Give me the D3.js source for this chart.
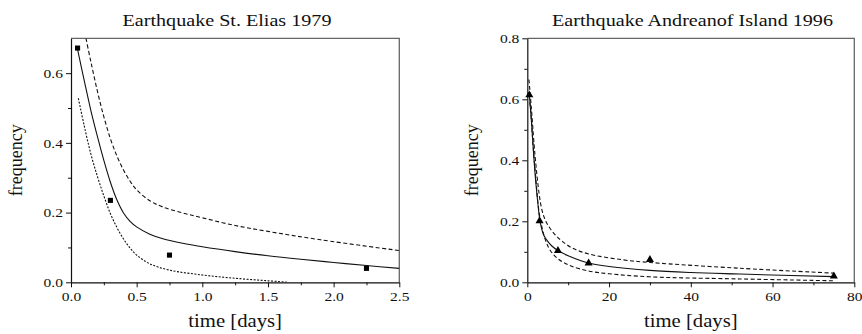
<!DOCTYPE html>
<html lang="en">
<head>
<meta charset="UTF-8">
<script src="https://d3js.org/d3.v7.min.js"></script>
<style>
  body { margin: 0; background: #fff; }
  svg { display: block; }
  svg text { font-family: 'Liberation Serif', serif; fill: #111; }
  .tick text { font-size: 13.5px; }
  .title { font-size: 17.5px; }
  .label { font-size: 18px; }
</style>
</head>
<body>
<div id="chart"></div>
<script>
// ---- data ----
// St. Elias 1979
const eliasDays = [0.05, 0.3, 0.75, 2.25];
const eliasFreq = [0.672, 0.235, 0.078, 0.040];
const eliasFit = [[0.05,0.668],[0.1,0.58],[0.15,0.495],[0.2,0.42],[0.25,0.35],[0.3,0.287],[0.35,0.236],[0.4,0.199],[0.45,0.175],[0.5,0.159],[0.6,0.138],[0.7,0.125],[0.85,0.112],[1.0,0.102],[1.25,0.088],[1.5,0.076],[1.75,0.066],[2.0,0.057],[2.25,0.048],[2.5,0.040]];
const eliasUpper = [[0.114,0.70],[0.15,0.635],[0.2,0.55],[0.25,0.475],[0.3,0.412],[0.35,0.362],[0.4,0.322],[0.45,0.29],[0.5,0.265],[0.6,0.234],[0.7,0.216],[0.85,0.199],[1.0,0.185],[1.25,0.163],[1.5,0.146],[1.9,0.122],[2.5,0.091]];
const eliasLower = [[0.056,0.528],[0.1,0.45],[0.15,0.37],[0.2,0.305],[0.25,0.248],[0.3,0.197],[0.35,0.157],[0.4,0.124],[0.45,0.098],[0.5,0.078],[0.6,0.053],[0.75,0.035],[1.0,0.021],[1.25,0.0115],[1.5,0.0045],[1.65,0]];

// Andreanof Island 1996
const andreanofDays = [0.5, 3, 7.5, 15, 30, 75];
const andreanofFreq = [0.614, 0.201, 0.104, 0.063, 0.074, 0.02];
const andreanofFit = [[0.5,0.615],[1.0,0.53],[1.5,0.43],[2.0,0.34],[2.5,0.27],[3.0,0.21],[3.5,0.176],[4.0,0.155],[5.0,0.134],[6.0,0.119],[7.5,0.104],[10,0.087],[15,0.063],[20,0.052],[30,0.039],[40,0.032],[52,0.027],[75,0.0185]];
const andreanofUpper = [[0.4,0.665],[1.0,0.57],[1.64,0.456],[2.0,0.40],[2.87,0.292],[3.5,0.242],[4.3,0.207],[5.5,0.178],[6.9,0.155],[8.5,0.135],[10.9,0.113],[15,0.093],[23.2,0.074],[30,0.065],[52,0.046],[75,0.03]];
const andreanofLower = [[0.6,0.59],[0.82,0.565],[1.4,0.45],[2.05,0.346],[2.8,0.238],[3.67,0.175],[4.4,0.14],[5.2,0.114],[6.2,0.094],[7.5,0.077],[9,0.064],[11,0.052],[15,0.037],[20,0.028],[30,0.018],[52,0.011],[75,0.005]];

// ticks
const eliasXTicks = [0, 0.5, 1.0, 1.5, 2.0, 2.5];
const eliasYTicks = [0, 0.2, 0.4, 0.6];
const andreanofXTicks = [0, 20, 40, 60, 80];
const andreanofYTicks = [0, 0.2, 0.4, 0.6, 0.8];

const W = 862, H = 334, SX = 1.15;
const FONT = "'Liberation Serif', serif";

let svg = d3.select("#chart").append("svg")
  .attr("width", W).attr("height", H);

function panel(o) {
  let x = d3.scaleLinear().domain(o.xDomain).range([o.left, o.right]);
  let y = d3.scaleLinear().domain(o.yDomain).range([o.bottom, o.top]);
  let g = svg.append("g");

  g.append("clipPath").attr("id", o.id + "clip")
    .append("rect").attr("x", o.left).attr("y", o.top)
    .attr("width", o.right - o.left).attr("height", o.bottom - o.top);

  // frame top/right
  g.append("path")
    .attr("d", `M${o.left},${o.top}H${o.right}V${o.bottom}`)
    .attr("fill", "none").attr("stroke", "#666").attr("stroke-width", 1.3);

  // minor ticks
  g.append("g").attr("transform", `translate(0,${o.bottom})`)
    .call(d3.axisBottom(x).tickValues(o.xMinor).tickSize(3).tickFormat(""))
    .call(a => a.select(".domain").remove());
  g.append("g").attr("transform", `translate(${o.left},0)`)
    .call(d3.axisLeft(y).tickValues(o.yMinor).tickSize(3).tickFormat(""))
    .call(a => a.select(".domain").remove());

  // major axes
  let xa = g.append("g").attr("transform", `translate(0,${o.bottom})`)
    .call(d3.axisBottom(x).tickValues(o.xTicks).tickSize(5).tickSizeOuter(0).tickFormat(o.xFormat))
    .attr("font-family", FONT).attr("font-size", 13.5);
  xa.selectAll(".tick text").attr("y", 9).attr("transform", `scale(${SX},1)`);
  let ya = g.append("g").attr("transform", `translate(${o.left},0)`)
    .call(d3.axisLeft(y).tickValues(o.yTicks).tickSize(5).tickSizeOuter(0).tickFormat(d3.format(".1f")))
    .attr("font-family", FONT).attr("font-size", 13.5);
  ya.selectAll(".tick text").attr("x", -8 / SX).attr("transform", `scale(${SX},1)`);
  g.selectAll(".domain").attr("stroke", "#111").attr("stroke-width", 1.2);
  g.selectAll(".tick line").attr("stroke", "#111");

  // curves
  let line = d3.line().x(d => x(d[0])).y(d => y(d[1])).curve(d3.curveCatmullRom.alpha(0.5));
  let curves = g.append("g").attr("clip-path", `url(#${o.id}clip)`);
  curves.append("path").attr("d", line(o.fit))
    .attr("fill", "none").attr("stroke", "#111").attr("stroke-width", 1.1);
  curves.append("path").attr("d", line(o.upper))
    .attr("fill", "none").attr("stroke", "#111").attr("stroke-width", 1.1)
    .attr("stroke-dasharray", "4,2.5");
  curves.append("path").attr("d", line(o.lower))
    .attr("fill", "none").attr("stroke", "#111").attr("stroke-width", 1.1)
    .attr("stroke-dasharray", o.lowerDash);

  // observations
  g.append("g").selectAll("path")
    .data(o.days.map((d, i) => [d, o.freq[i]]))
    .join("path")
    .attr("transform", d => `translate(${x(d[0])},${y(d[1])})`)
    .attr("d", d3.symbol().type(o.symbol).size(o.symbolSize))
    .attr("fill", "#000");

  // texts
  g.append("text").attr("class", "title")
    .attr("font-family", FONT)
    .attr("text-anchor", "middle")
    .attr("transform", `translate(${o.titleX},26) scale(${SX},1)`)
    .text(o.title);
  g.append("text").attr("class", "label")
    .attr("font-family", FONT)
    .attr("text-anchor", "middle")
    .attr("transform", `translate(${(o.left + o.right) / 2},327) scale(${SX},1)`)
    .text("time [days]");
  g.append("text").attr("class", "label")
    .attr("font-family", FONT)
    .attr("text-anchor", "middle")
    .attr("transform", `translate(${o.ylabelX},${(o.top + o.bottom) / 2}) rotate(-90)`)
    .text("frequency");
}

panel({
  id: "elias", left: 71, right: 399.3, top: 38.3, bottom: 282.3,
  xDomain: [0, 2.5], yDomain: [0, 0.7],
  xTicks: eliasXTicks, yTicks: eliasYTicks,
  xMinor: d3.range(0.25, 2.5, 0.5), yMinor: [0.1, 0.3, 0.5],
  xFormat: d3.format(".1f"),
  fit: eliasFit, upper: eliasUpper, lower: eliasLower, lowerDash: "2,1.5",
  days: eliasDays, freq: eliasFreq, symbol: d3.symbolSquare, symbolSize: 26,
  title: "Earthquake St. Elias 1979", titleX: 227, ylabelX: 22
});

panel({
  id: "andreanof", left: 527.3, right: 854.3, top: 38.3, bottom: 282.3,
  xDomain: [0, 80], yDomain: [0, 0.8],
  xTicks: andreanofXTicks, yTicks: andreanofYTicks,
  xMinor: [10, 30, 50, 70], yMinor: [0.1, 0.3, 0.5, 0.7],
  xFormat: d3.format("d"),
  fit: andreanofFit, upper: andreanofUpper, lower: andreanofLower, lowerDash: "4,2.5",
  days: andreanofDays, freq: andreanofFreq, symbol: d3.symbolTriangle, symbolSize: 28,
  title: "Earthquake Andreanof Island 1996", titleX: 692.5, ylabelX: 478
});
</script>
</body>
</html>
